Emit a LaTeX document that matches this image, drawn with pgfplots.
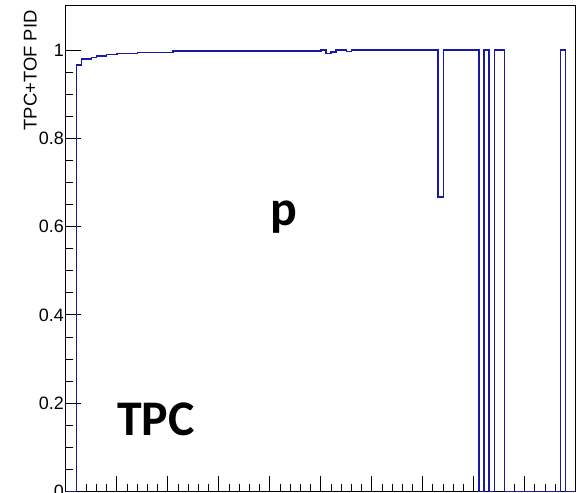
\documentclass[border=0pt]{standalone}
\usepackage{fontspec}
\setmainfont{Liberation Sans}
\newfontfamily\calibri{Carlito}
\usepackage{pgfplots}
\pgfplotsset{compat=1.18}
\definecolor{rootblue}{RGB}{25,25,165}
\begin{document}
\begin{tikzpicture}
\begin{axis}[
  at={(0,0)}, anchor=south west,
  scale only axis,
  width=509.7bp, height=485.5bp,
  xmin=0, xmax=10, ymin=0, ymax=1.1,
  axis line style={black, line width=1bp},
  tick style={black, line width=1bp},
  tick align=inside,
  xtick pos=bottom, ytick pos=left,
  xtick={0,1,...,10},
  ytick={0,0.2,0.4,0.6,0.8,1},
  minor x tick num=4,
  minor y tick num=3,
  major tick length=15bp,
  minor tick length=7.5bp,
  xticklabels={},
  /pgf/number format/assume math mode=true,
  ticklabel style={font=\fontsize{18}{20}\selectfont},
  yticklabel style={inner xsep=2bp},
  ylabel={TPC+TOF PID},
  ylabel style={at={(axis description cs:-0.0575,0.998)}, anchor=base east, font=\fontsize{18.5}{20}\selectfont},
  clip=false,
]
\addplot[const plot, color=rootblue, line width=1.3bp] coordinates {
  (0,0) (0.2,0.966) (0.3,0.980) (0.5,0.983) (0.6,0.987) (0.8,0.990)
  (1.0,0.992) (1.4,0.995) (2.1,0.998) (5.0,1.0) (5.1,0.993) (5.2,0.996)
  (5.3,1.0) (5.5,0.997) (5.6,1.0) (7.3,0.667) (7.4,1.0) (8.1,0)
  (8.2,1) (8.3,0) (8.4,1) (8.6,0) (9.7,1) (9.8,0) (10,0)
};
\node[anchor=base west, inner sep=0pt, font=\calibri\bfseries\fontsize{50}{55}\selectfont] at (axis cs:4.0,0.603) {p};
\node[anchor=base west, inner sep=0pt, font=\calibri\bfseries\fontsize{50}{55}\selectfont] at (axis cs:1.0,0.128) {TPC};
\end{axis}
\pgfresetboundingbox
\path[use as bounding box] (-66bp,-1.5bp) rectangle (518bp,491.5bp);
\end{tikzpicture}
\end{document}
